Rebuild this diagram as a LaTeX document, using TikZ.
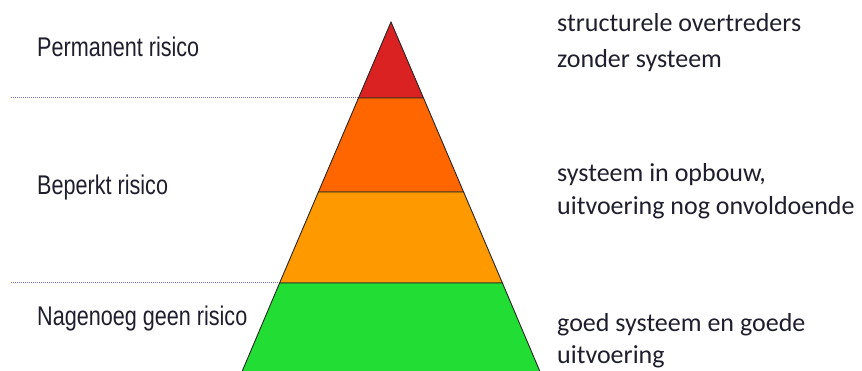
\documentclass[tikz,border=0pt]{standalone}
\usepackage{fontspec}
\setmainfont{Carlito}
\newfontfamily\narrowsans[FakeStretch=0.8]{Liberation Sans}

\definecolor{riskred}{RGB}{218,34,34}
\definecolor{riskorange}{RGB}{255,102,0}
\definecolor{riskamber}{RGB}{255,153,0}
\definecolor{riskgreen}{RGB}{34,221,51}
\definecolor{gridline}{RGB}{115,115,200}
\definecolor{inktext}{RGB}{30,30,45}

\tikzset{
  band/.style={draw=black!85,line width=0.9pt,line join=miter},
  levelline/.style={gridline,densely dotted,line width=1pt},
  risklabel/.style={anchor=base west,inner sep=0pt,text=inktext,font=\narrowsans\fontsize{27}{32}\selectfont},
  notelabel/.style={anchor=base west,inner sep=0pt,text=inktext,font=\fontsize{26}{32}\selectfont}
}

\begin{document}
\begin{tikzpicture}[x=1pt,y=-1pt]
\useasboundingbox (0,0) rectangle (862,371);
% pyramid bands
\filldraw [band,fill=riskred] (391,22) -- (423.5,98) -- (358.5,98) -- cycle;
\filldraw [band,fill=riskorange] (358.5,98) -- (423.5,98) -- (463.6,192) -- (318.4,192) -- cycle;
\filldraw [band,fill=riskamber] (318.4,192) -- (463.6,192) -- (502.4,283) -- (279.6,283) -- cycle;
\filldraw [band,fill=riskgreen] (279.6,283) -- (502.4,283) -- (541,374) -- (241,374) -- cycle;
% dotted level lines
\draw [levelline] (11,98) -- (357.5,98);
\draw [levelline] (11,283) -- (278.5,283);
% risk levels
\node [risklabel] (permanent) at (37,57) {Permanent risico};
\node [risklabel] (beperkt) at (37,195) {Beperkt risico};
\node [risklabel] (nagenoeg) at (37,325) {Nagenoeg geen risico};
% descriptions
\node [notelabel] (top1) at (557,32) {structurele overtreders};
\node [notelabel] (top2) at (557,68) {zonder systeem};
\node [notelabel] (mid1) at (557,182) {systeem in opbouw,};
\node [notelabel] (mid2) at (557,215) {uitvoering nog onvoldoende};
\node [notelabel] (low1) at (557,331) {goed systeem en goede};
\node [notelabel] (low2) at (557,363) {uitvoering};
\end{tikzpicture}
\end{document}
